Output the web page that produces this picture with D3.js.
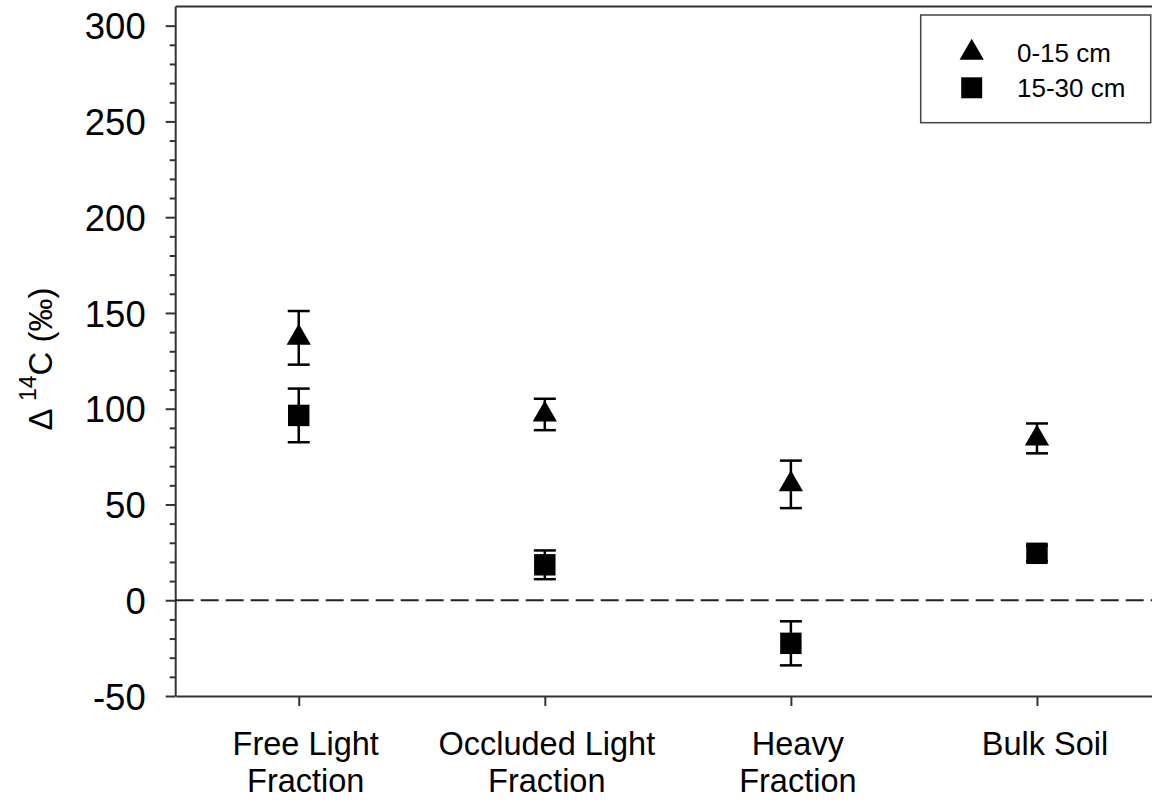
<!DOCTYPE html>
<html>
<head>
<meta charset="utf-8">
<script src="https://cdn.jsdelivr.net/npm/d3@7"></script>
<style>
  body { margin: 0; background: #fff; }
  text { font-family: "Liberation Sans", Arial, sans-serif; fill: #000; }
</style>
</head>
<body>
<svg width="1152" height="802"></svg>
<script>
// Categories along the x axis (two-line labels)
const categories = [
  ["Free Light", "Fraction"],
  ["Occluded Light", "Fraction"],
  ["Heavy", "Fraction"],
  ["Bulk Soil"]
];

// Delta 14C values (per mil) and error bar half widths
const shallowValues = [137, 97, 60.5, 84.5];   // 0-15 cm
const shallowErrors = [14, 8.2, 12.4, 7.8];
const deepValues = [96.5, 18.5, -22.5, 24.5];   // 15-30 cm
const deepErrors = [14, 7.5, 11.5, 4];

const yTicks = [-50, 0, 50, 100, 150, 200, 250, 300];
const legendLabels = ["0-15 cm", "15-30 cm"];

// Plot area
const plotLeft = 175.7, plotRight = 1160, plotTop = 6.5, plotBottom = 696;
// the category labels sit slightly right of their ticks in the original
const labelShift = [7, 2, 7, 8];

const svg = d3.select("svg");

const x = d3.scaleLinear().domain([0.5, 4.5]).range([plotLeft, plotRight]);
const y = d3.scaleLinear().domain([-50, 310]).range([plotBottom, plotTop]);

const axisColor = "#333";

// frame: top line
svg.append("line")
  .attr("x1", plotLeft).attr("x2", plotRight)
  .attr("y1", plotTop).attr("y2", plotTop)
  .attr("stroke", axisColor).attr("stroke-width", 2);

// Y axis with minor ticks
const yMinor = d3.range(-50, 301, 10).filter(v => v % 50 !== 0);
svg.append("g")
  .attr("transform", `translate(${plotLeft},0)`)
  .call(d3.axisLeft(y).tickValues(yMinor).tickSize(6).tickFormat(""))
  .call(g => g.select(".domain").remove())
  .call(g => g.selectAll("line").attr("stroke", axisColor).attr("stroke-width", 2));

const yAxis = svg.append("g")
  .attr("transform", `translate(${plotLeft},0)`)
  .call(d3.axisLeft(y).tickValues(yTicks).tickSize(10).tickPadding(20)
    .tickSizeOuter(0).tickFormat(d => String(d)));
yAxis.select(".domain").attr("stroke", axisColor).attr("stroke-width", 2)
  .attr("d", `M0,${plotTop}V${plotBottom}`);
yAxis.selectAll("line").attr("stroke", axisColor).attr("stroke-width", 2);
yAxis.selectAll("text")
  .style("font-size", "36.5px")
  .style("font-family", '"Liberation Sans", Arial, sans-serif')
  .attr("dy", "0.36em");

// X axis
const xAxis = svg.append("g")
  .attr("transform", `translate(0,${plotBottom})`)
  .call(d3.axisBottom(x).tickValues([1, 2, 3, 4]).tickSize(10).tickSizeOuter(0).tickFormat(""));
xAxis.select(".domain").attr("stroke", axisColor).attr("stroke-width", 2);
xAxis.selectAll("line").attr("stroke", axisColor).attr("stroke-width", 2);

// category labels
categories.forEach((lines, i) => {
  const t = svg.append("text")
    .attr("text-anchor", "middle")
    .style("font-size", "32.5px");
  lines.forEach((line, j) => {
    t.append("tspan")
      .attr("x", x(i + 1) + labelShift[i])
      .attr("y", 755 + j * 36.5)
      .text(line);
  });
});

// Y axis title
const title = svg.append("text")
  .attr("transform", "translate(52,359) rotate(-90)")
  .attr("text-anchor", "middle")
  .style("font-size", "33px");
title.append("tspan").text("\u0394 ");
title.append("tspan").attr("dy", -16).style("font-size", "23px").text("14");
title.append("tspan").attr("dy", 16).text("C (\u2030)");

// zero reference line
svg.append("line")
  .attr("x1", plotLeft).attr("x2", plotRight)
  .attr("y1", y(0)).attr("y2", y(0))
  .attr("stroke", "#222").attr("stroke-width", 2)
  .attr("stroke-dasharray", "18,7");

// error bars and markers
const capHalf = 11;
function drawSeries(values, errors, symbol, size) {
  const g = svg.append("g");
  values.forEach((v, i) => {
    const cx = x(i + 1), e = errors[i];
    g.append("line")
      .attr("x1", cx).attr("x2", cx)
      .attr("y1", y(v + e)).attr("y2", y(v - e))
      .attr("stroke", "#000").attr("stroke-width", 2.5);
    [v + e, v - e].forEach(w => {
      g.append("line")
        .attr("x1", cx - capHalf).attr("x2", cx + capHalf)
        .attr("y1", y(w)).attr("y2", y(w))
        .attr("stroke", "#000").attr("stroke-width", 2.5);
    });
    g.append("path")
      .attr("d", d3.symbol().type(symbol).size(size)())
      .attr("transform", `translate(${cx},${y(v)})`)
      .attr("fill", "#000");
  });
}
drawSeries(shallowValues, shallowErrors, d3.symbolTriangle, 255);
drawSeries(deepValues, deepErrors, d3.symbolSquare, 460);

// Legend
const legend = svg.append("g");
legend.append("rect")
  .attr("x", 920.7).attr("y", 15)
  .attr("width", 230).attr("height", 107.7)
  .attr("fill", "#fff").attr("stroke", "#444").attr("stroke-width", 1.5);

const legendSymbols = [
  { type: d3.symbolTriangle, size: 255, cy: 52.7 },
  { type: d3.symbolSquare, size: 440, cy: 87.8 }
];
legendLabels.forEach((label, i) => {
  legend.append("path")
    .attr("d", d3.symbol().type(legendSymbols[i].type).size(legendSymbols[i].size)())
    .attr("transform", `translate(971.7,${legendSymbols[i].cy})`)
    .attr("fill", "#000");
  legend.append("text")
    .attr("x", 1017)
    .attr("y", 62 + i * 35)
    .style("font-size", "26px")
    .text(label);
});
</script>
</body>
</html>
